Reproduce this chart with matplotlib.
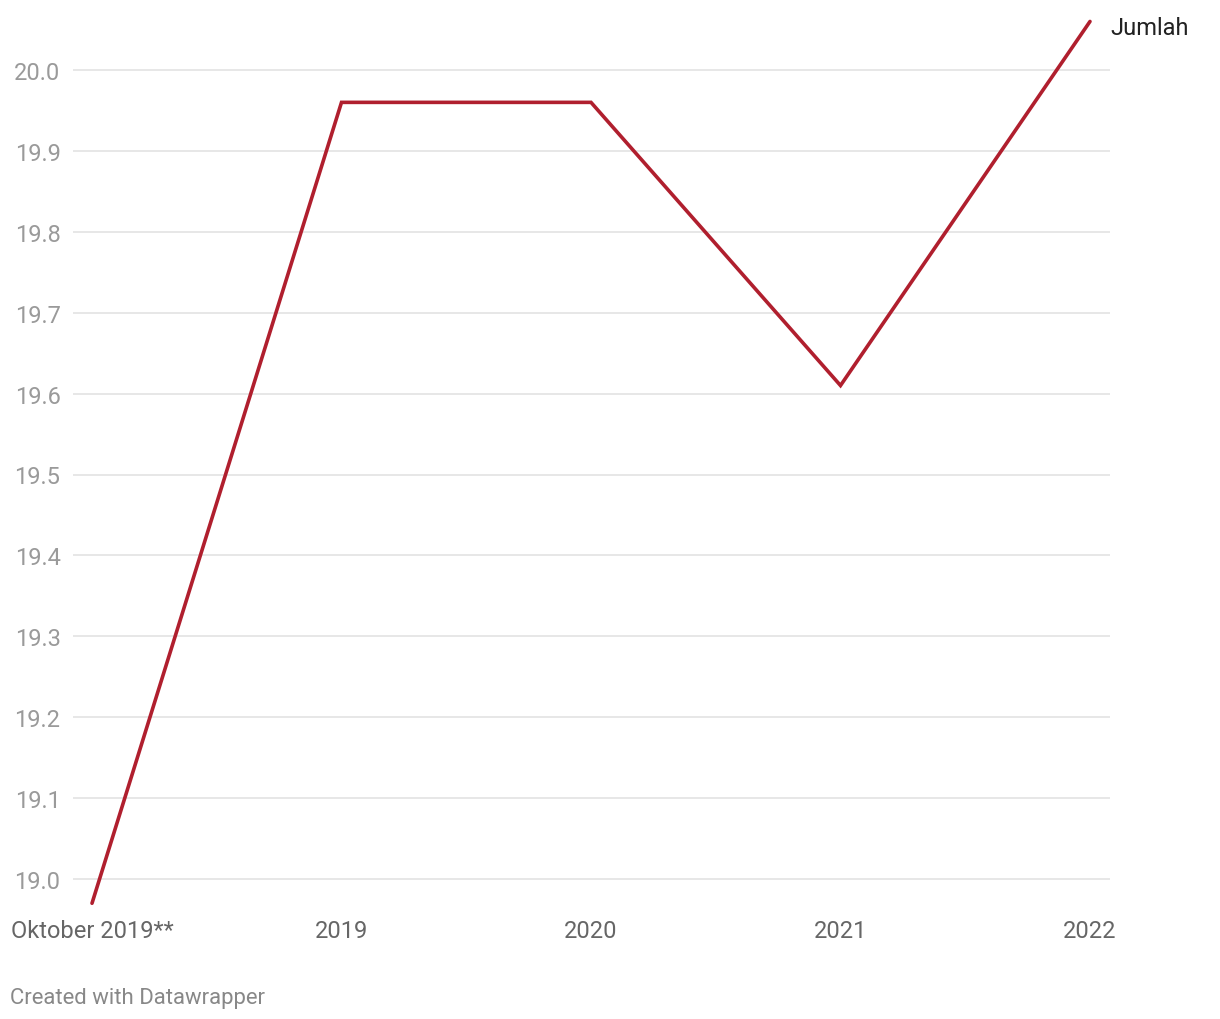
import matplotlib
matplotlib.use("Agg")
import matplotlib.pyplot as plt

plt.rcParams['font.family'] = ['Roboto', 'DejaVu Sans']

labels = ["Oktober 2019**", "2019", "2020", "2021", "2022"]
values = [18.97, 19.96, 19.96, 19.61, 20.06]
yticks = [19.0, 19.1, 19.2, 19.3, 19.4, 19.5, 19.6, 19.7, 19.8, 19.9, 20.0]
series_name = "Jumlah"

W, H = 1220, 1020
fig = plt.figure(figsize=(W / 100, H / 100), dpi=100)

# axes placed so grid spans x 73..1110 px
ylo, yhi = 18.95, 20.08
px_per_unit = 809.0
bottom_px = 880 + (19.0 - ylo) * px_per_unit
top_px = 71 - (yhi - 20.0) * px_per_unit
ax = fig.add_axes([73 / W, 1 - bottom_px / H, 1037 / W, (bottom_px - top_px) / H])

xs = list(range(len(values)))
ax.set_xlim((73 - 92) / 249.5, (1110 - 92) / 249.5)
ax.set_ylim(ylo, yhi)

for y in yticks:
    ax.axhline(y, color="#e3e3e3", lw=1.2, zorder=1)

ax.plot(xs, values, color="#b01f2e", lw=2.6, solid_capstyle="round",
        solid_joinstyle="miter", zorder=3, clip_on=False)

ax.text(xs[-1] + 0.08, values[-1] - 0.007, series_name, fontsize=17, color="#222222",
        ha="left", va="center")

ax.set_yticks(yticks)
ax.set_yticklabels(["%.1f" % y for y in yticks], fontsize=17, color="#9a9a9a")
ax.set_xticks(xs)
ax.set_xticklabels(labels, fontsize=17, color="#666666")
ax.tick_params(axis="y", length=0, pad=9)
ax.tick_params(axis="x", length=0, pad=0)

for s in ax.spines.values():
    s.set_visible(False)
ax.patch.set_alpha(0)

fig.text(10 / W, 1 - 999 / H, "Created with Datawrapper", fontsize=15.9,
         color="#888888", ha="left", va="center")

fig.savefig("out.png", dpi=100)
